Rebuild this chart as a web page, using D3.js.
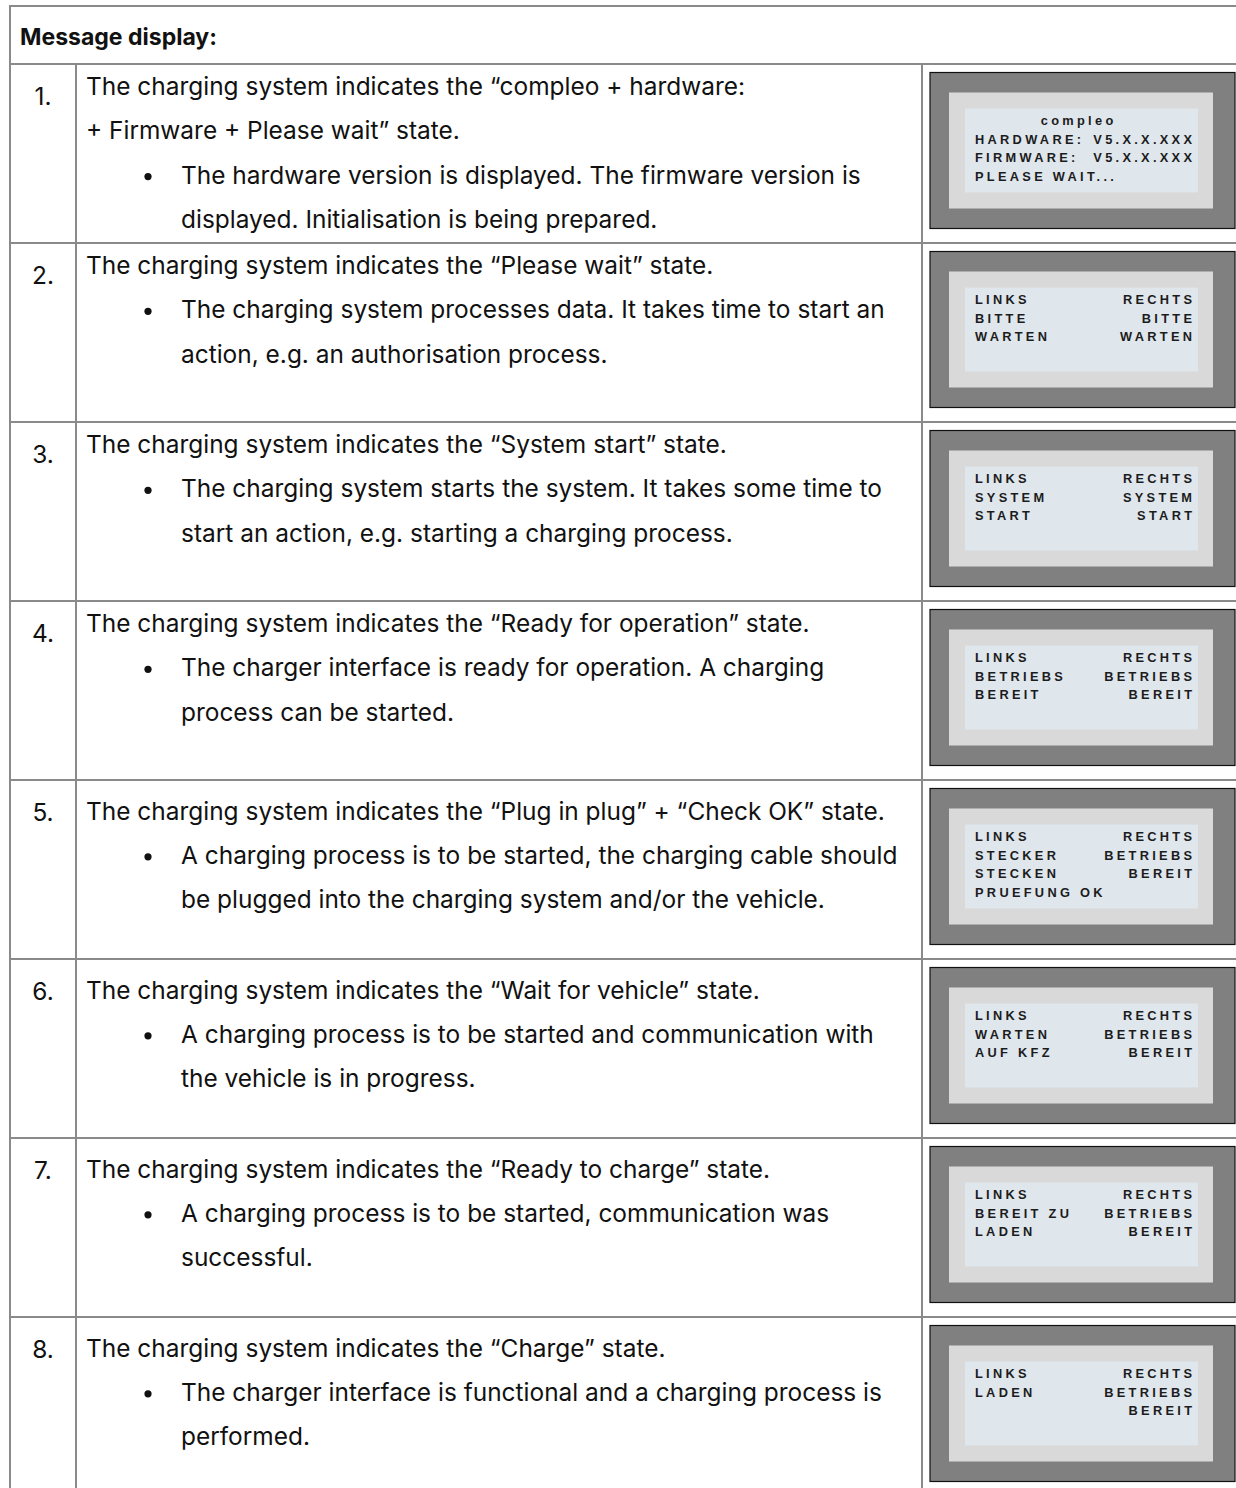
<!DOCTYPE html>
<html><head><meta charset="utf-8">
<script src="https://cdn.jsdelivr.net/npm/d3@7"></script>
<style>html,body{margin:0;padding:0;background:#fff;}svg{display:block;}</style>
</head><body>
<script>
const headerText = "Message display:";
const rowNumbers = ["1.","2.","3.","4.","5.","6.","7.","8."];
const rowTitles = [
  ["The charging system indicates the \u201Ccompleo + hardware:", "+ Firmware + Please wait\u201D state."],
  ["The charging system indicates the \u201CPlease wait\u201D state."],
  ["The charging system indicates the \u201CSystem start\u201D state."],
  ["The charging system indicates the \u201CReady for operation\u201D state."],
  ["The charging system indicates the \u201CPlug in plug\u201D + \u201CCheck OK\u201D state."],
  ["The charging system indicates the \u201CWait for vehicle\u201D state."],
  ["The charging system indicates the \u201CReady to charge\u201D state."],
  ["The charging system indicates the \u201CCharge\u201D state."]
];
const rowBullets = [
  ["The hardware version is displayed. The firmware version is", "displayed. Initialisation is being prepared."],
  ["The charging system processes data. It takes time to start an", "action, e.g. an authorisation process."],
  ["The charging system starts the system. It takes some time to", "start an action, e.g. starting a charging process."],
  ["The charger interface is ready for operation. A charging", "process can be started."],
  ["A charging process is to be started, the charging cable should", "be plugged into the charging system and/or the vehicle."],
  ["A charging process is to be started and communication with", "the vehicle is in progress."],
  ["A charging process is to be started, communication was", "successful."],
  ["The charger interface is functional and a charging process is", "performed."]
];
const lcdCenter = [
  ["compleo","","",""], [], [], [], [], [], [], []
];
const lcdLeft = [
  ["","HARDWARE:","FIRMWARE:","PLEASE WAIT..."],
  ["LINKS","BITTE","WARTEN"],
  ["LINKS","SYSTEM","START"],
  ["LINKS","BETRIEBS","BEREIT"],
  ["LINKS","STECKER","STECKEN","PRUEFUNG OK"],
  ["LINKS","WARTEN","AUF KFZ"],
  ["LINKS","BEREIT ZU","LADEN"],
  ["LINKS","LADEN"]
];
const lcdRight = [
  ["","V5.X.X.XXX","V5.X.X.XXX",""],
  ["RECHTS","BITTE","WARTEN"],
  ["RECHTS","SYSTEM","START"],
  ["RECHTS","BETRIEBS","BEREIT"],
  ["RECHTS","BETRIEBS","BEREIT"],
  ["RECHTS","BETRIEBS","BEREIT"],
  ["RECHTS","BETRIEBS","BEREIT"],
  ["RECHTS","BETRIEBS","BEREIT"]
];

const W = 1236, H = 1488;
const svg = d3.select("body").append("svg").attr("width", W).attr("height", H);

const bodyFont = "Inter, 'Noto Sans', sans-serif";
const lcdFont = "'Liberation Sans', Arial, sans-serif";
const lineColor = "#8a8a8a";
const textColor = "#111";

function measure(txt, size, weight) {
  const t = svg.append("text").attr("font-family", bodyFont).attr("font-size", size)
    .attr("font-weight", weight).text(txt);
  const w = t.node().getComputedTextLength();
  t.remove();
  return w;
}
const bodySize = 24 * 799 / measure(rowTitles[4][0], 24, 400);
const headSize = 22 * 197 / measure(headerText, 22, 700);

const y = d3.scaleLinear().domain([0, 8]).range([64, 64 + 8 * 179]);

const colL = 10, colNum = 76, colImg = 922, tableTop = 6;
const lines = svg.append("g").attr("stroke", lineColor).attr("stroke-width", 2);
lines.append("line").attr("x1", colL - 1).attr("x2", W).attr("y1", tableTop).attr("y2", tableTop);
lines.append("line").attr("x1", colL).attr("x2", colL).attr("y1", tableTop).attr("y2", H);
lines.selectAll("line.rowline").data(d3.range(8)).join("line").attr("class", "rowline")
  .attr("x1", colL).attr("x2", W).attr("y1", d => y(d)).attr("y2", d => y(d));
lines.append("line").attr("x1", colNum).attr("x2", colNum).attr("y1", y(0)).attr("y2", H);
lines.append("line").attr("x1", colImg).attr("x2", colImg).attr("y1", y(0)).attr("y2", H);

svg.append("text").attr("x", 20).attr("y", 44.5).attr("font-family", bodyFont)
  .attr("font-size", headSize).attr("font-weight", 700).attr("fill", textColor).text(headerText);

const pitch = 44.3;
const rows = svg.selectAll("g.row").data(rowNumbers).join("g").attr("class", "row")
  .attr("transform", (d, i) => `translate(0,${y(i)})`);

rows.append("text").attr("x", 43).attr("y", 40.5).attr("text-anchor", "middle")
  .attr("font-family", bodyFont).attr("font-size", bodySize).attr("fill", textColor).text(d => d);

rows.each(function(d, i) {
  const g = d3.select(this);
  const base = i < 4 ? 31 : 39.5;
  const title = rowTitles[i];
  title.forEach((t, k) => {
    g.append("text").attr("x", 86).attr("y", base + k * pitch)
      .attr("font-family", bodyFont).attr("font-size", bodySize).attr("fill", textColor).text(t);
  });
  const bl = rowBullets[i];
  bl.forEach((t, k) => {
    const yy = base + (title.length + k) * pitch;
    g.append("text").attr("x", 181).attr("y", yy)
      .attr("font-family", bodyFont).attr("font-size", bodySize).attr("fill", textColor).text(t);
    if (k === 0) g.append("circle").attr("cx", 148).attr("cy", yy - 7).attr("r", 3.6).attr("fill", textColor);
  });

  const bx = 930, by = 8.5, bw = 305, bh = 156;
  g.append("rect").attr("x", bx).attr("y", by).attr("width", bw).attr("height", bh)
    .attr("fill", "#808080").attr("stroke", "#111").attr("stroke-width", 1.2);
  g.append("rect").attr("x", bx + 19).attr("y", by + 20).attr("width", bw - 41).attr("height", bh - 40)
    .attr("fill", "#d9d9d9");
  g.append("rect").attr("x", bx + 35).attr("y", by + 36).attr("width", bw - 72).attr("height", bh - 72)
    .attr("fill", "#dfe6ec");
  const ls = 3.3, fs = 12.8, lp = 18.6, lb = 61.2;
  const lcdText = (arr, anchor, xx) => arr.forEach((t, k) => {
    if (!t) return;
    g.append("text").attr("x", xx).attr("y", lb + k * lp).attr("text-anchor", anchor)
      .attr("font-family", lcdFont).attr("font-size", fs).attr("font-weight", 700)
      .attr("letter-spacing", ls).attr("fill", "#1c1c1c").text(t);
  });
  lcdText(lcdLeft[i], "start", 975);
  lcdText(lcdRight[i], "end", 1192 + ls);
  lcdText(lcdCenter[i], "middle", 1077 + ls / 2);
});
</script>
</body></html>
